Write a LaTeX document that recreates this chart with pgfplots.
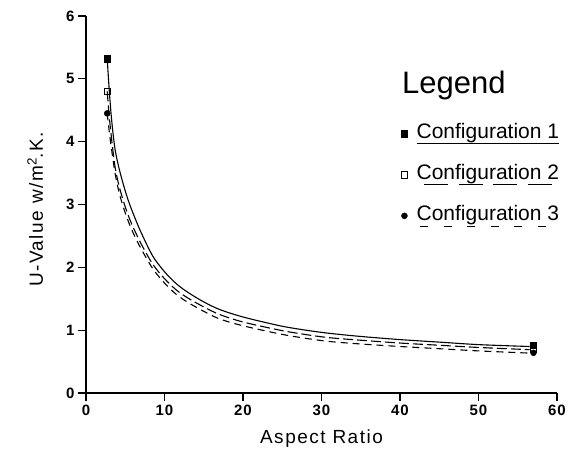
\documentclass[border=0pt]{standalone}
\usepackage{fontspec}
\setmainfont{Liberation Sans}
\usepackage{pgfplots}
\pgfplotsset{compat=1.18}

% underlines standing for the line styles in the legend
\newsavebox\ulbox
\newcommand\ulwith[2]{\sbox\ulbox{#2}\rlap{\hbox to \wd\ulbox{\xleaders\hbox{#1}\hfill}}\usebox\ulbox}
\newcommand\solidul[1]{\ulwith{\rule[-5pt]{2pt}{1pt}}{#1}}
\newcommand\dashul[1]{\ulwith{\kern3pt\rule[-5pt]{24pt}{1pt}\kern3pt}{#1}}
\newcommand\sparseul[1]{\ulwith{\kern2pt\rule[-6pt]{8pt}{1pt}\kern12pt}{#1}}

\begin{document}
\begin{tikzpicture}
\begin{axis}[
    width=471pt, height=377pt, scale only axis,
    xmin=0, xmax=60, ymin=0, ymax=6,
    axis lines*=left,
    axis line style={line width=1.3pt},
    xtick={0,10,...,60}, ytick={0,1,...,6},
    tick align=outside, major tick length=8pt,
    tick style={line width=1.2pt, black},
    /pgf/number format/assume math mode=true,
    tick label style={font=\bfseries\fontsize{15}{15}\selectfont\addfontfeature{LetterSpace=6}},
    xlabel={Aspect Ratio},
    ylabel={U-Value w/m\textsuperscript{2}.K.},
    label style={font=\fontsize{19}{21}\selectfont\addfontfeature{LetterSpace=8}},
    xlabel style={at={(axis description cs:0.5,0)}, anchor=base, yshift=-50pt},
    ylabel style={at={(axis description cs:-0.108,0.487)}, anchor=center},
    clip=false,
    legend style={draw=none, fill=none, at={(axis cs:39.75,4.35)}, anchor=north west,
        font=\fontsize{21}{24}\selectfont,
        nodes={inner sep=1pt, text height=16pt, text depth=6pt},
        row sep=17pt,
        /tikz/every odd column/.append style={column sep=8pt}},
    legend cell align=left,
    legend image code/.code={\draw[#1, mark repeat=2, mark phase=2]
        plot coordinates {(0pt,0pt)(5pt,0pt)(10pt,0pt)};},
]
% Configuration 1
\addplot[black, line width=1.1pt, smooth, forget plot] coordinates {
(2.7,5.32)(3.0,4.75)(3.3,4.3)(3.7,3.88)(4.2,3.58)(4.8,3.3)(5.4,3.06)(6,2.86)(7,2.56)
(8.5,2.18)(10,1.93)(11.5,1.74)(13,1.6)(15,1.45)(17,1.33)(20,1.21)(24.7,1.07)
(28,1.0)(31,0.95)(35,0.9)(40,0.85)(45,0.81)(50,0.77)(56.5,0.74)};
% Configuration 2
\addplot[black, line width=1.1pt, dash pattern=on 10pt off 4pt, smooth, forget plot] coordinates {
(2.7,4.8)(3.0,4.35)(3.3,4.0)(3.7,3.6)(4.2,3.3)(4.8,3.04)(5.4,2.82)(6,2.64)(7,2.38)
(8.5,2.05)(10,1.82)(11.5,1.64)(13,1.51)(15,1.37)(17,1.25)(20,1.13)(24.7,1.0)
(28,0.93)(31,0.88)(35,0.84)(40,0.795)(45,0.76)(50,0.725)(56.5,0.69)};
% Configuration 3
\addplot[black, line width=1.1pt, dash pattern=on 7pt off 5pt, smooth, forget plot] coordinates {
(2.7,4.45)(3.0,4.12)(3.3,3.84)(3.7,3.5)(4.2,3.2)(4.8,2.94)(5.4,2.73)(6,2.55)(7,2.3)
(8.5,1.98)(10,1.75)(11.5,1.57)(13,1.44)(15,1.3)(17,1.18)(20,1.07)(24.7,0.94)
(28,0.87)(31,0.82)(35,0.78)(40,0.74)(45,0.705)(50,0.67)(56.5,0.635)};
% measured points
\addplot[only marks, mark=square*, mark size=3.2pt, black]
  coordinates {(2.7,5.32)(57,0.76)};
\addlegendentry{\solidul{Configuration 1}}
\addplot[only marks, mark=square, mark size=3.2pt, black, mark options={line width=0.8pt, fill=white}]
  coordinates {(2.7,4.8)(57,0.7)};
\addlegendentry{\dashul{Configuration 2}}
\addplot[only marks, mark=*, mark size=3pt, black]
  coordinates {(2.7,4.45)(57,0.64)};
\addlegendentry{\sparseul{Configuration 3}}
\node[anchor=base west, inner sep=0pt, font=\fontsize{31}{33}\selectfont] at (axis cs:40.25,4.76) {Legend};
\end{axis}
\path ([shift={(-86pt,-57pt)}]current axis.south west) rectangle ([shift={(24pt,16pt)}]current axis.north east);
\end{tikzpicture}
\end{document}
